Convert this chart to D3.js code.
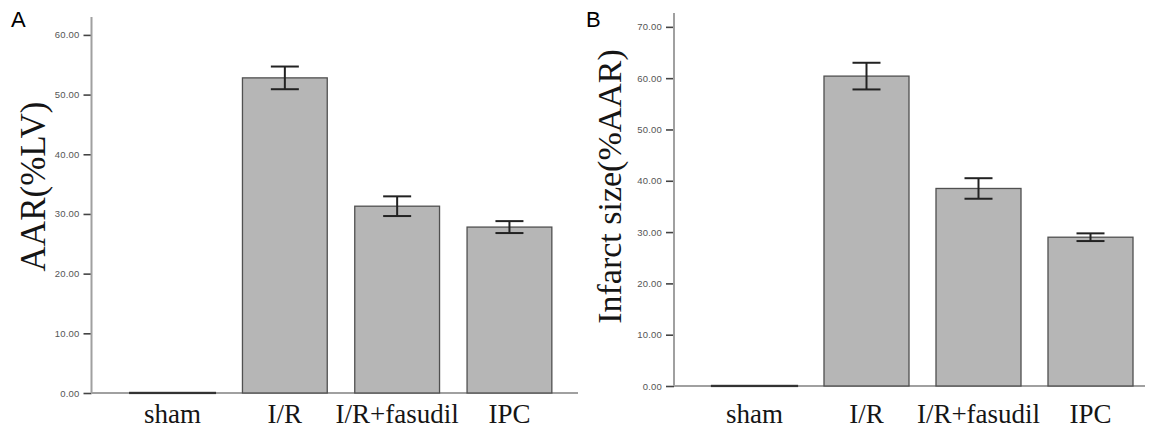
<!DOCTYPE html>
<html>
<head>
<meta charset="utf-8">
<script src="https://cdn.jsdelivr.net/npm/d3@7"></script>
<style>
  html, body { margin: 0; padding: 0; background: #fff; }
  svg { display: block; }
</style>
</head>
<body>
<svg id="chart" width="1150" height="430"></svg>
<script>
// ---- data ----
const categories = ["sham", "I/R", "I/R+fasudil", "IPC"];
const aarMean = [0, 52.8, 31.3, 27.8];
const aarErr = [0, 1.9, 1.65, 1.0];
const infarctMean = [0, 60.4, 38.5, 29.0];
const infarctErr = [0, 2.6, 2.0, 0.75];
const aarTicks = [0, 10, 20, 30, 40, 50, 60];
const infarctTicks = [0, 10, 20, 30, 40, 50, 60, 70];
const panelLetters = ["A", "B"];
const yTitles = ["AAR(%LV)", "Infarct size(%AAR)"];

const svg = d3.select("#chart");
const serif = "'Liberation Serif', 'Times New Roman', serif";
const sans = "'Liberation Sans', Arial, sans-serif";

function drawPanel(p) {
  const g = svg.append("g");
  const y = d3.scaleLinear().domain([0, p.yMax]).range([p.y0, p.yTop]);
  const x = d3.scaleBand().domain(categories).range(p.xRange)
    .paddingInner(p.pad).paddingOuter(p.pad / 2);

  // y axis ticks
  const yAxis = d3.axisLeft(y).tickValues(p.ticks).tickSize(8).tickPadding(4)
    .tickFormat(d3.format(".2f"));
  const ag = g.append("g").attr("transform", `translate(${p.axisX},0)`).call(yAxis);
  ag.select(".domain").remove();
  ag.selectAll(".tick line").attr("stroke", "#444").attr("stroke-width", 1.6);
  ag.selectAll(".tick text").attr("font-family", sans).attr("font-size", 9.5)
    .attr("fill", "#555").attr("letter-spacing", "0.2px");

  // axis lines
  g.append("line").attr("x1", p.axisX).attr("x2", p.axisX)
    .attr("y1", p.yTop).attr("y2", p.y0)
    .attr("stroke", "#a0a0a0").attr("stroke-width", 2);
  g.append("line").attr("x1", p.axisX).attr("x2", p.xAxisEnd)
    .attr("y1", p.y0).attr("y2", p.y0)
    .attr("stroke", "#a0a0a0").attr("stroke-width", 2);

  // bars
  g.selectAll("rect.bar").data(categories).enter().append("rect")
    .attr("class", "bar")
    .attr("x", d => x(d))
    .attr("width", x.bandwidth())
    .attr("y", (d, i) => Math.min(y(p.mean[i]), y(0) - 0.1))
    .attr("height", (d, i) => Math.max(y(0) - y(p.mean[i]), 0.1))
    .attr("fill", (d, i) => p.mean[i] > 0 ? "#b6b6b6" : "#333")
    .attr("stroke", (d, i) => p.mean[i] > 0 ? "#505050" : "#333")
    .attr("stroke-width", (d, i) => p.mean[i] > 0 ? 1.3 : 2.2);

  // error bars
  const cap = 14;
  const eg = g.selectAll("g.err").data(categories.map((c, i) => ({c, m: p.mean[i], e: p.err[i]}))
    .filter(d => d.e > 0)).enter().append("g").attr("class", "err");
  eg.append("line")
    .attr("x1", d => x(d.c) + x.bandwidth() / 2).attr("x2", d => x(d.c) + x.bandwidth() / 2)
    .attr("y1", d => y(d.m + d.e)).attr("y2", d => y(d.m - d.e));
  eg.append("line")
    .attr("x1", d => x(d.c) + x.bandwidth() / 2 - cap).attr("x2", d => x(d.c) + x.bandwidth() / 2 + cap)
    .attr("y1", d => y(d.m + d.e)).attr("y2", d => y(d.m + d.e));
  eg.append("line")
    .attr("x1", d => x(d.c) + x.bandwidth() / 2 - cap).attr("x2", d => x(d.c) + x.bandwidth() / 2 + cap)
    .attr("y1", d => y(d.m - d.e)).attr("y2", d => y(d.m - d.e));
  eg.selectAll("line").attr("stroke", "#222").attr("stroke-width", 2);

  // category labels
  g.selectAll("text.cat").data(categories).enter().append("text")
    .attr("class", "cat")
    .attr("x", d => x(d) + x.bandwidth() / 2)
    .attr("y", 423)
    .attr("text-anchor", "middle")
    .attr("font-family", serif).attr("font-size", 27).attr("fill", "#151515")
    .text(d => d);

  // y title
  g.append("text")
    .attr("transform", `translate(${p.titleX},${p.titleY}) rotate(-90)`)
    .attr("text-anchor", "middle")
    .attr("font-family", serif).attr("font-size", p.titleSize).attr("fill", "#151515")
    .text(p.title);

  // panel letter
  g.append("text").attr("x", p.letterX).attr("y", 27)
    .attr("font-family", sans).attr("font-size", 22).attr("fill", "#000")
    .text(p.letter);
}

drawPanel({
  mean: aarMean, err: aarErr, ticks: aarTicks, yMax: 63,
  y0: 393, yTop: 17, axisX: 91.5, xAxisEnd: 578,
  xRange: [116.4, 565.6], pad: 0.245,
  title: yTitles[0], titleX: 45, titleY: 186.5, titleSize: 35,
  letter: panelLetters[0], letterX: 11
});

drawPanel({
  mean: infarctMean, err: infarctErr, ticks: infarctTicks, yMax: 72.7,
  y0: 386, yTop: 13, axisX: 674, xAxisEnd: 1145,
  xRange: [698.5, 1146.5], pad: 0.241,
  title: yTitles[1], titleX: 621, titleY: 186.5, titleSize: 34,
  letter: panelLetters[1], letterX: 586
});
</script>
</body>
</html>
